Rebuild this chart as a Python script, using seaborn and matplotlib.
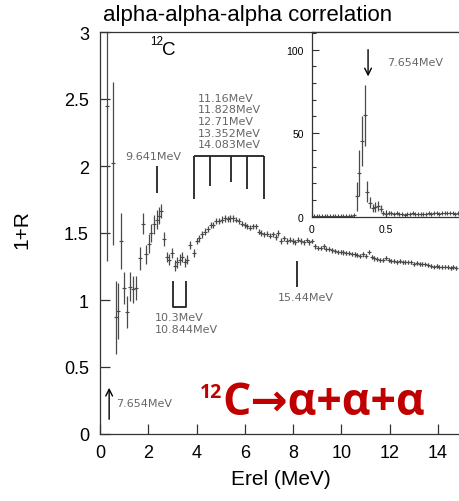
import numpy as np
import matplotlib
matplotlib.use("Agg")
import matplotlib.pyplot as plt
from matplotlib.ticker import FuncFormatter, MultipleLocator
import seaborn as sns

# ---------------- data ----------------
# main panel: 1+R vs Erel (MeV)
erel_low = [0.28, 0.40, 0.52, 0.65, 0.76, 0.89, 1.01, 1.13, 1.25, 1.37, 1.50,
            1.64, 1.77, 1.89, 2.01, 2.12, 2.24, 2.35, 2.43, 2.52, 2.65, 2.76,
            2.87, 2.99, 3.12, 3.21, 3.31, 3.41, 3.52, 3.62, 3.75, 3.88]
ratio_low = [2.45, np.nan, 2.02, 0.87, 0.92, 1.44, 1.09, 0.91, 1.10, 1.08, 1.09,
             1.31, 1.57, 1.34, 1.42, 1.50, 1.565, 1.60, 1.63, 1.665, 1.455, 1.32,
             1.30, 1.35, 1.256, 1.28, 1.30, 1.32, 1.28, 1.30, 1.41, 1.35]
err_low = [1.16, np.nan, 0.61, 0.27, 0.21, 0.21, 0.12, 0.12, 0.11, 0.10, 0.09,
           0.085, 0.08, 0.07, 0.07, 0.07, 0.07, 0.07, 0.065, 0.055, 0.05, 0.035,
           0.04, 0.04, 0.04, 0.04, 0.04, 0.04, 0.035, 0.035, 0.03, 0.03]

erel_high_start, erel_bin = 4.00, 0.117
ratio_high = [1.44, 1.46, 1.49, 1.51, 1.53, 1.56, 1.56, 1.59, 1.59, 1.60,
              1.61, 1.605, 1.61, 1.61, 1.60, 1.59, 1.57, 1.56, 1.55, 1.54,
              1.55, 1.55, 1.51, 1.50, 1.49, 1.495, 1.48, 1.49, 1.47, 1.50,
              1.44, 1.46, 1.44, 1.45, 1.44, 1.43, 1.45, 1.44, 1.43, 1.45,
              1.43, 1.44, 1.40, 1.39, 1.39, 1.40, 1.38, 1.38, 1.37, 1.365,
              1.36, 1.36, 1.355, 1.35, 1.35, 1.345, 1.34, 1.335, 1.33, 1.34,
              1.33, 1.36, 1.32, 1.31, 1.305, 1.30, 1.30, 1.315, 1.30, 1.29,
              1.29, 1.285, 1.29, 1.28, 1.285, 1.28, 1.28, 1.27, 1.275, 1.27,
              1.27, 1.265, 1.26, 1.255, 1.25, 1.255, 1.25, 1.245, 1.25, 1.245,
              1.24, 1.245, 1.24]
err_high = [0.025] * 14 + [0.02] * 25 + [0.016] * 30 + [0.013] * 24

# inset: 0-1 MeV
inset_start, inset_bin = 0.014, 0.018
inset_ratio = [0.2, 0.3, 0.2, 0.3, 0.3, 0.2, 0.4, 0.3, 0.3, 0.2, 0.4, 0.3, 0.5, 0.4,
               0.6, 1.0, 12.2, 26.3, 45.5, 60.6, 14.9, 8.3, 5.1, 5.8, 6.6, 4.8,
               2.2, 1.5, 2.4, 2.0, 1.6, 2.2, 1.4, 1.8, 1.3, 1.9, 1.5, 2.3, 1.4,
               1.7, 1.6, 1.9, 1.5, 2.1, 1.7, 2.0, 2.4, 1.8, 2.0, 2.2, 2.0, 2.4,
               2.1, 1.7, 2.0]
inset_err = [0.3] * 16 + [8.8, 13.7, 15.0, 18.2, 6.3, 3.3, 2.5, 3.2, 3.0, 2.0,
                          1.0, 0.8, 0.9, 0.8, 0.6, 0.7, 0.5, 0.6, 0.5, 0.5,
                          0.5, 0.5] + [0.4] * 17

# 12C levels (MeV) and the 3-alpha threshold
threshold = 7.275
hoyle = 7.654
level_9641 = 9.641
levels_group = [11.16, 11.828, 12.71, 13.352, 14.083]
levels_pair = [10.3, 10.844]
level_1544 = 15.44

erel_high = np.round(erel_high_start + erel_bin * np.arange(len(ratio_high)), 3)
erel = np.concatenate([erel_low, erel_high])
ratio = np.concatenate([ratio_low, ratio_high])
err = np.concatenate([err_low, err_high])
inset_x = np.round(inset_start + inset_bin * np.arange(len(inset_ratio)), 3)

# ---------------- figure ----------------
sns.set_theme(style="ticks")
plt.rcParams["font.family"] = ["Liberation Sans", "DejaVu Sans"]

W, H = 460, 502
fig = plt.figure(figsize=(W / 100, H / 100), dpi=100)
ax = fig.add_axes([100 / W, 67 / H, 362 / W, 402 / H])

data_col = "#4a4a4a"
ax.errorbar(erel, ratio, yerr=err, fmt="none", ecolor=data_col, elinewidth=0.9)
sns.scatterplot(x=erel, y=ratio, ax=ax, marker="+", s=9, color=data_col,
                linewidth=0.8, legend=False)

ax.set_xlim(0, 15)
ax.set_ylim(0, 3)
ax.set_xticks(range(0, 15, 2))
ax.set_yticks([0, 0.5, 1, 1.5, 2, 2.5, 3])
fmt = FuncFormatter(lambda v, p: f"{v:g}")
ax.xaxis.set_major_formatter(fmt)
ax.yaxis.set_major_formatter(fmt)
ax.tick_params(axis="both", direction="in", length=7, width=0.9,
               color="#333333", labelsize=13, labelcolor="black")
ax.tick_params(axis="y", pad=8)
ax.tick_params(axis="x", pad=7)
for s in ax.spines.values():
    s.set_linewidth(0.9)
    s.set_color("#333333")

ax.set_xlabel("Erel (MeV)", fontsize=15, color="black")
ax.xaxis.set_label_coords(0.5, -0.088)
ax.set_ylabel("1+R", fontsize=15, color="black")
ax.yaxis.set_label_coords(-0.19, 0.51)

fig.text(103 / W, 1 - 21 / H, "alpha-alpha-alpha correlation", fontsize=16,
         ha="left", va="baseline", color="black")

# ---- annotations in the main panel ----
ann_col = "#666666"
ann_font = dict(family="DejaVu Sans", fontsize=8, color=ann_col)
line_kw = dict(color="#222222", lw=1.3, solid_capstyle="butt")

ax.text(2.55, 2.836, "C", fontsize=13.5, color="black", ha="left", va="baseline")
ax.text(2.07, 2.91, "12", fontsize=8.4, color="black", ha="left", va="baseline")

e9 = level_9641 - threshold
ax.plot([e9, e9], [2.0, 1.80], **line_kw)
ax.text(1.035, 2.075, f"{level_9641}MeV", ha="left", va="center", **ann_font)

eg = [e - threshold for e in levels_group]
ax.plot([eg[0], eg[-1]], [2.077, 2.077], **line_kw)
for e, b in zip(eg, [1.754, 1.85, 1.88, 1.83, 1.754]):
    ax.plot([e, e], [2.077, b], **line_kw)
ax.text(4.07, 2.125, "\n".join(f"{e}MeV" for e in levels_group),
        ha="left", va="bottom", linespacing=1.2, **ann_font)

ep = [e - threshold for e in levels_pair]
ax.plot([ep[0], ep[0], ep[1], ep[1]], [1.144, 0.945, 0.945, 1.144], **line_kw)
ax.text(2.28, 0.828, "\n".join(f"{e}MeV" for e in levels_pair),
        ha="left", va="center", linespacing=1.25, **ann_font)

e15 = level_1544 - threshold
ax.plot([e15, e15], [1.293, 1.095], **line_kw)
ax.text(7.38, 1.02, f"{level_1544}MeV", ha="left", va="center", **ann_font)

eh = hoyle - threshold
ax.annotate("", xy=(eh, 0.345), xytext=(eh, 0.11),
            arrowprops=dict(arrowstyle="->", color="black", lw=1.0,
                            shrinkA=0, shrinkB=0))
ax.text(0.66, 0.231, f"{hoyle}MeV", ha="left", va="center", **ann_font)

red = "#c00000"
ax.text(5.08, 0.149, "C\u2192\u03b1+\u03b1+\u03b1", color=red, fontsize=32,
        fontweight="bold", family=["Open Sans", "DejaVu Sans"],
        ha="left", va="baseline")
ax.text(4.12, 0.276, "12", color=red, fontsize=14, fontweight="bold",
        family=["Open Sans", "DejaVu Sans"], ha="left", va="baseline")

# ---------------- inset ----------------
axin = fig.add_axes([312 / W, (H - 217.7) / H, 150 / W, 184.4 / H])
axin.set_facecolor("white")
axin.errorbar(inset_x, inset_ratio, yerr=inset_err, fmt="none",
              ecolor=data_col, elinewidth=0.9)
sns.scatterplot(x=inset_x, y=inset_ratio, ax=axin, marker="+", s=8,
                color=data_col, linewidth=0.8, legend=False)
axin.set_xlim(0, 1.014)
axin.set_ylim(0, 110.4)
axin.set_xticks([0, 0.5])
axin.set_yticks([0, 50, 100])
axin.yaxis.set_minor_locator(MultipleLocator(10))
axin.xaxis.set_major_formatter(fmt)
axin.yaxis.set_major_formatter(fmt)
axin.tick_params(axis="both", which="major", direction="in", length=5,
                 width=0.8, color="#333333", labelsize=7.5, labelcolor="black")
axin.tick_params(axis="y", which="minor", direction="in", length=3,
                 width=0.8, color="#333333")
axin.tick_params(axis="y", pad=6)
axin.tick_params(axis="x", pad=5)
for s in axin.spines.values():
    s.set_linewidth(0.9)
    s.set_color("#333333")
axin.set_xlabel("")
axin.set_ylabel("")

axin.annotate("", xy=(eh, 84), xytext=(eh, 100),
              arrowprops=dict(arrowstyle="->", color="black", lw=1.0,
                              shrinkA=0, shrinkB=0))
axin.text(0.507, 92.6, f"{hoyle}MeV", ha="left", va="center", **ann_font)

fig.savefig("out.png", dpi=100)
